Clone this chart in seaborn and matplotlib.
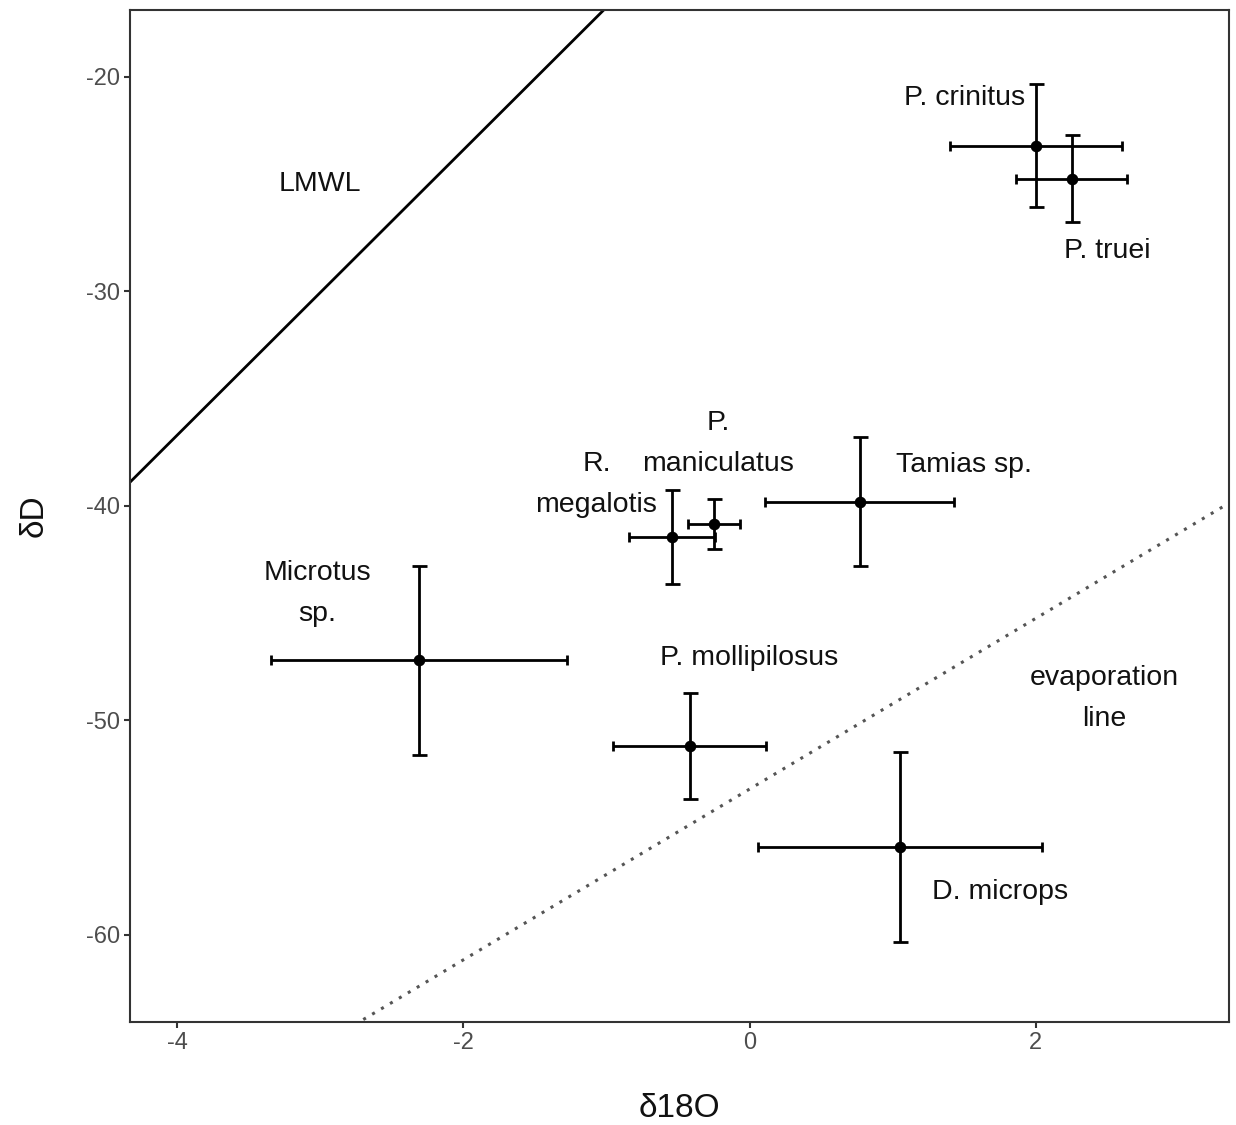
import numpy as np
import pandas as pd
import matplotlib
matplotlib.use("Agg")
import matplotlib.pyplot as plt
import seaborn as sns

# ---- data ----
species = ["P. crinitus", "P. truei", "Tamias sp.", "P. maniculatus", "R. megalotis",
           "Microtus sp.", "P. mollipilosus", "D. microps"]
d18O = [2.00, 2.25, 0.77, -0.25, -0.54, -2.31, -0.42, 1.05]
dD = [-23.2, -24.75, -39.8, -40.85, -41.45, -47.2, -51.2, -55.9]
d18O_err = [0.60, 0.39, 0.66, 0.18, 0.30, 1.035, 0.535, 0.99]
dD_err = [2.85, 2.03, 3.0, 1.15, 2.2, 4.4, 2.47, 4.43]

label_text = ["P. crinitus", "P. truei", "Tamias sp.", "P.\nmaniculatus", "R.\nmegalotis",
              "Microtus\nsp.", "P. mollipilosus", "D. microps", "LMWL", "evaporation\nline"]
label_x = [1.5, 2.5, 1.5, -0.22, -1.07, -3.02, 0.0, 1.75, -3.0, 2.48]
label_y = [-21.0, -28.1, -38.1, -37.1, -39.0, -44.06, -47.1, -58.0, -25.0, -49.0]

lmwl_slope, lmwl_intercept = 6.65, -10.1
evap_slope, evap_intercept = 3.98, -53.2

xlim = (-4.33, 3.35)
ylim = (-64.06, -16.88)
xticks = [-4, -2, 0, 2]
yticks = [-60, -50, -40, -30, -20]

df = pd.DataFrame({"species": species, "d18O": d18O, "dD": dD,
                   "xerr": d18O_err, "yerr": dD_err})

sns.set_theme(style="white")
plt.rcParams["font.family"] = ["Liberation Sans", "DejaVu Sans"]
plt.rcParams["axes.unicode_minus"] = False

fig = plt.figure(figsize=(12.36, 11.25), dpi=100)
ax = fig.add_axes([130 / 1236, 1 - 1022 / 1125, (1229 - 130) / 1236, (1022 - 10) / 1125])

# lines
xs = np.linspace(xlim[0] - 1, xlim[1] + 1, 50)
lines = pd.DataFrame({"x": np.concatenate([xs, xs]),
                      "y": np.concatenate([lmwl_slope * xs + lmwl_intercept,
                                           evap_slope * xs + evap_intercept]),
                      "line": ["LMWL"] * len(xs) + ["evap"] * len(xs)})
sns.lineplot(data=lines[lines.line == "LMWL"], x="x", y="y", color="black",
             linewidth=2.0, ax=ax, legend=False)
sns.lineplot(data=lines[lines.line == "evap"], x="x", y="y", color="#555555",
             linewidth=2.2, linestyle=(0, (1, 2.4)), ax=ax, legend=False)

# error bars
ax.errorbar(df.d18O, df.dD, yerr=df.yerr, fmt="none", ecolor="black",
            elinewidth=2.0, capsize=5.4, capthick=2.0, zorder=3)
ax.errorbar(df.d18O, df.dD, xerr=df.xerr, fmt="none", ecolor="black",
            elinewidth=2.0, capsize=3.6, capthick=2.0, zorder=3)
sns.scatterplot(data=df, x="d18O", y="dD", color="black", s=70, edgecolor="black",
                linewidth=0, ax=ax, zorder=4)

for t, x, y in zip(label_text, label_x, label_y):
    ax.text(x, y, t, ha="center", va="center", fontsize=20.5, color="#111111",
            linespacing=1.75)

ax.set_xlim(xlim)
ax.set_ylim(ylim)
ax.set_xticks(xticks)
ax.set_yticks(yticks)
ax.set_xlabel("δ18O", fontsize=24, color="#111111", labelpad=28)
ax.set_ylabel("δD", fontsize=24, color="#111111", labelpad=26)
ax.tick_params(axis="both", which="both", direction="out", length=4, width=1.5,
               color="#333333", labelsize=17, labelcolor="#4D4D4D", pad=3,
               bottom=True, left=True)
for sp in ax.spines.values():
    sp.set_color("#333333")
    sp.set_linewidth(1.5)
    sp.set_visible(True)

fig.savefig("out.png", dpi=100, facecolor="white")
